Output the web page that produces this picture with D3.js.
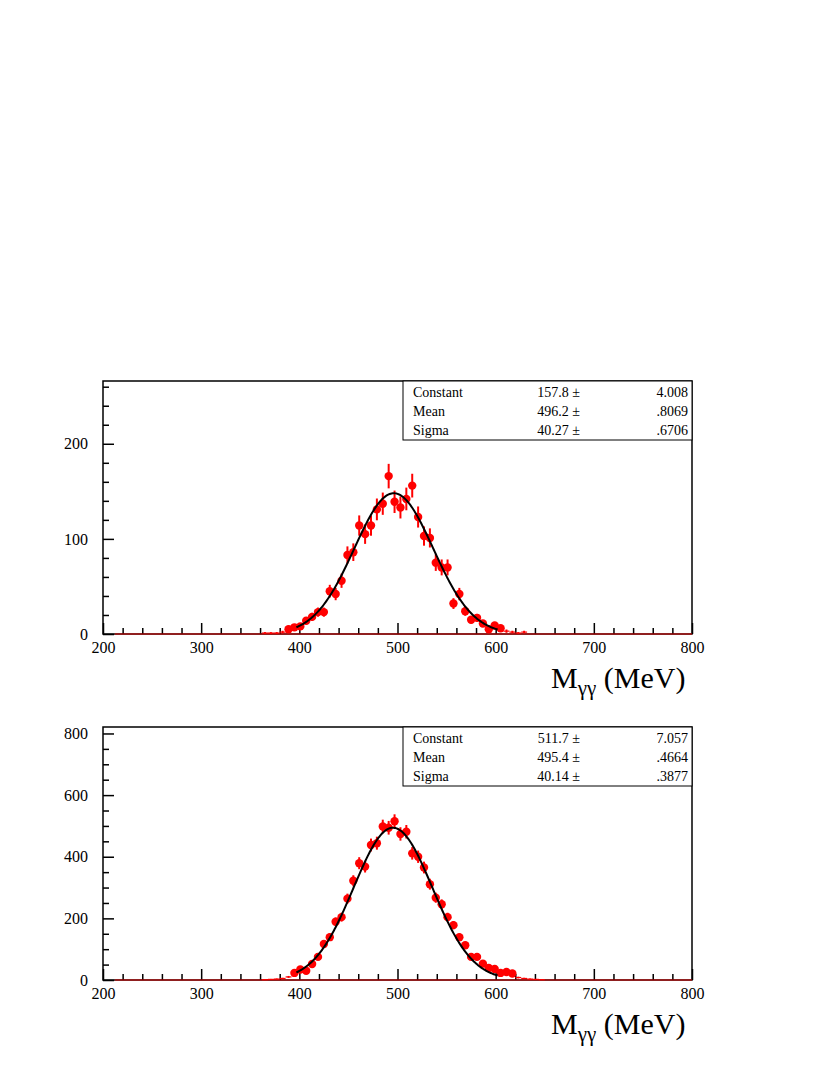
<!DOCTYPE html>
<html>
<head>
<meta charset="utf-8">
<script src="https://cdn.jsdelivr.net/npm/d3@7"></script>
<style>
  body { margin: 0; background: white; }
  text { font-family: "Liberation Serif", "DejaVu Serif", serif; }
</style>
</head>
<body>
<div id="chart"></div>
<script>
// 6 MeV bins, centres in MeV
let binWidth = 6;

let topCenters = [365, 371, 377, 383, 389, 395, 401, 407, 413, 419, 425, 431, 437, 443, 449, 455, 461, 467, 473, 479, 485, 491, 497, 503, 509, 515, 521, 527, 533, 539, 545, 551, 557, 563, 569, 575, 581, 587, 593, 599, 605, 611, 617, 623, 629];
let topCounts = [1, 1, 1, 2, 5, 7, 8, 14, 18, 23, 23, 45, 42, 56, 83, 86, 114, 105, 114, 131, 137, 166, 139, 133, 142, 156, 123, 103, 101, 75, 70, 70, 32, 42, 24, 15, 17, 11, 5, 9, 6, 3, 2, 1, 2];

let bottomCenters = [365, 371, 377, 383, 389, 395, 401, 407, 413, 419, 425, 431, 437, 443, 449, 455, 461, 467, 473, 479, 485, 491, 497, 503, 509, 515, 521, 527, 533, 539, 545, 551, 557, 563, 569, 575, 581, 587, 593, 599, 605, 611, 617, 623, 629, 635, 641, 647];
let bottomCounts = [1, 2, 3, 5, 10, 23, 34, 30, 52, 75, 117, 139, 189, 204, 264, 322, 379, 368, 438, 444, 498, 494, 515, 474, 481, 411, 400, 365, 311, 267, 246, 204, 178, 139, 113, 75, 75, 53, 39, 36, 23, 26, 21, 8, 5, 3, 2, 1];

let statNames = ["Constant", "Mean", "Sigma"];
let topStats = ["157.8", "496.2", "40.27"];
let topErrors = ["4.008", ".8069", ".6706"];
let bottomStats = ["511.7", "495.4", "40.14"];
let bottomErrors = ["7.057", ".4664", ".3877"];

// drawn fit curve: peak height, centre, width
let topCurve = [148, 496.2, 40.27];
let bottomCurve = [494, 495.4, 40.14];

let xTicks = [200, 300, 400, 500, 600, 700, 800];
let topYTicks = [0, 100, 200];
let bottomYTicks = [0, 200, 400, 600, 800];

let fitRange = [397, 602];
let emptyRange = [212, 800];

let svg = d3
  .select("#chart")
  .append("svg")
  .attr("width", 830)
  .attr("height", 1075);

let left = 103;
let right = 692;
let panelHeight = 253;

let drawPanel = (top, centers, counts, yMax, yTicks, yMinor, stats, errors, curve) => {
  let bottom = top + panelHeight;
  let x = d3.scaleLinear().domain([200, 800]).range([left, right]);
  let y = d3.scaleLinear().domain([0, yMax]).range([bottom, top]);

  // minor ticks
  svg
    .append("g")
    .attr("transform", "translate(0," + bottom + ")")
    .call(
      d3.axisBottom(x)
        .tickValues(d3.range(220, 800, 20).filter((d) => d % 100 !== 0))
        .tickSize(-6)
        .tickFormat("")
    )
    .call((g) => g.select(".domain").remove())
    .selectAll("line")
    .attr("stroke-width", 1.5);

  svg
    .append("g")
    .attr("transform", "translate(" + left + ",0)")
    .call(
      d3.axisLeft(y)
        .tickValues(d3.range(yMinor, yMax, yMinor).filter((d) => !yTicks.includes(d)))
        .tickSize(-6)
        .tickFormat("")
    )
    .call((g) => g.select(".domain").remove())
    .selectAll("line")
    .attr("stroke-width", 1.5);

  // major ticks + labels
  let xAxis = svg
    .append("g")
    .attr("transform", "translate(0," + bottom + ")")
    .call(d3.axisBottom(x).tickValues(xTicks).tickSize(-11).tickPadding(8).tickFormat(d3.format("d")))
    .attr("font-size", 16);
  xAxis.select(".domain").remove();
  xAxis.selectAll("line").attr("stroke-width", 1.5);

  let yAxis = svg
    .append("g")
    .attr("transform", "translate(" + left + ",0)")
    .call(d3.axisLeft(y).tickValues(yTicks).tickSize(-11).tickPadding(15).tickFormat(d3.format("d")))
    .attr("font-size", 16);
  yAxis.select(".domain").remove();
  yAxis.selectAll("line").attr("stroke-width", 1.5);

  // frame
  svg
    .append("rect")
    .attr("x", left)
    .attr("y", top)
    .attr("width", right - left)
    .attr("height", panelHeight)
    .attr("fill", "none")
    .attr("stroke", "black")
    .attr("stroke-width", 1.5);

  // empty bins along zero
  svg
    .append("line")
    .attr("x1", x(emptyRange[0]))
    .attr("x2", x(emptyRange[1]))
    .attr("y1", y(0))
    .attr("y2", y(0))
    .attr("stroke", "#e00000")
    .attr("stroke-width", 1.2);

  let points = centers.map((c, i) => ({ c: c, n: counts[i] }));

  // horizontal (bin width) bars
  svg
    .append("g")
    .selectAll("line")
    .data(points)
    .enter()
    .append("line")
    .attr("x1", (d) => x(d.c - binWidth / 2))
    .attr("x2", (d) => x(d.c + binWidth / 2))
    .attr("y1", (d) => y(d.n))
    .attr("y2", (d) => y(d.n))
    .attr("stroke", "red")
    .attr("stroke-width", 1.2);

  // vertical error bars
  svg
    .append("g")
    .selectAll("line")
    .data(points)
    .enter()
    .append("line")
    .attr("x1", (d) => x(d.c))
    .attr("x2", (d) => x(d.c))
    .attr("y1", (d) => y(Math.max(0, d.n - Math.sqrt(d.n))))
    .attr("y2", (d) => y(d.n + Math.sqrt(d.n)))
    .attr("stroke", "red")
    .attr("stroke-width", 2);

  // markers, skipped when they would cross the frame
  let r = 4.2;
  svg
    .append("g")
    .selectAll("circle")
    .data(points.filter((d) => y(d.n) + r <= bottom + 1))
    .enter()
    .append("circle")
    .attr("cx", (d) => x(d.c))
    .attr("cy", (d) => y(d.n))
    .attr("r", r)
    .attr("fill", "red");

  // gaussian fit
  let fitX = d3.range(fitRange[0], fitRange[1] + 0.5, 1);
  let line = d3
    .line()
    .x((d) => x(d))
    .y((d) => y(curve[0] * Math.exp(-0.5 * Math.pow((d - curve[1]) / curve[2], 2))));
  svg
    .append("path")
    .attr("d", line(fitX))
    .attr("fill", "none")
    .attr("stroke", "black")
    .attr("stroke-width", 2);

  // stats box
  let boxLeft = 403;
  let box = svg.append("g");
  box
    .append("rect")
    .attr("x", boxLeft)
    .attr("y", top)
    .attr("width", right - boxLeft)
    .attr("height", 59)
    .attr("fill", "white")
    .attr("stroke", "black")
    .attr("stroke-width", 1);
  statNames.forEach((name, i) => {
    let baseY = top + 16 + i * 19;
    box.append("text").attr("x", 413).attr("y", baseY).attr("font-size", 14).text(name);
    box
      .append("text")
      .attr("x", 580)
      .attr("y", baseY)
      .attr("font-size", 14)
      .attr("text-anchor", "end")
      .text(stats[i] + " \u00b1");
    box
      .append("text")
      .attr("x", 688)
      .attr("y", baseY)
      .attr("font-size", 14)
      .attr("text-anchor", "end")
      .text(errors[i]);
  });

  // axis title
  let title = svg
    .append("text")
    .attr("x", 551)
    .attr("y", top + 307)
    .attr("font-size", 30);
  title.append("tspan").text("M");
  title.append("tspan").attr("font-size", 21).attr("dy", 7).text("\u03b3\u03b3");
  title.append("tspan").attr("dy", -7).text(" (MeV)");
};

drawPanel(381, topCenters, topCounts, 266, topYTicks, 20, topStats, topErrors, topCurve);
drawPanel(727, bottomCenters, bottomCounts, 821, bottomYTicks, 50, bottomStats, bottomErrors, bottomCurve);
</script>
</body>
</html>
